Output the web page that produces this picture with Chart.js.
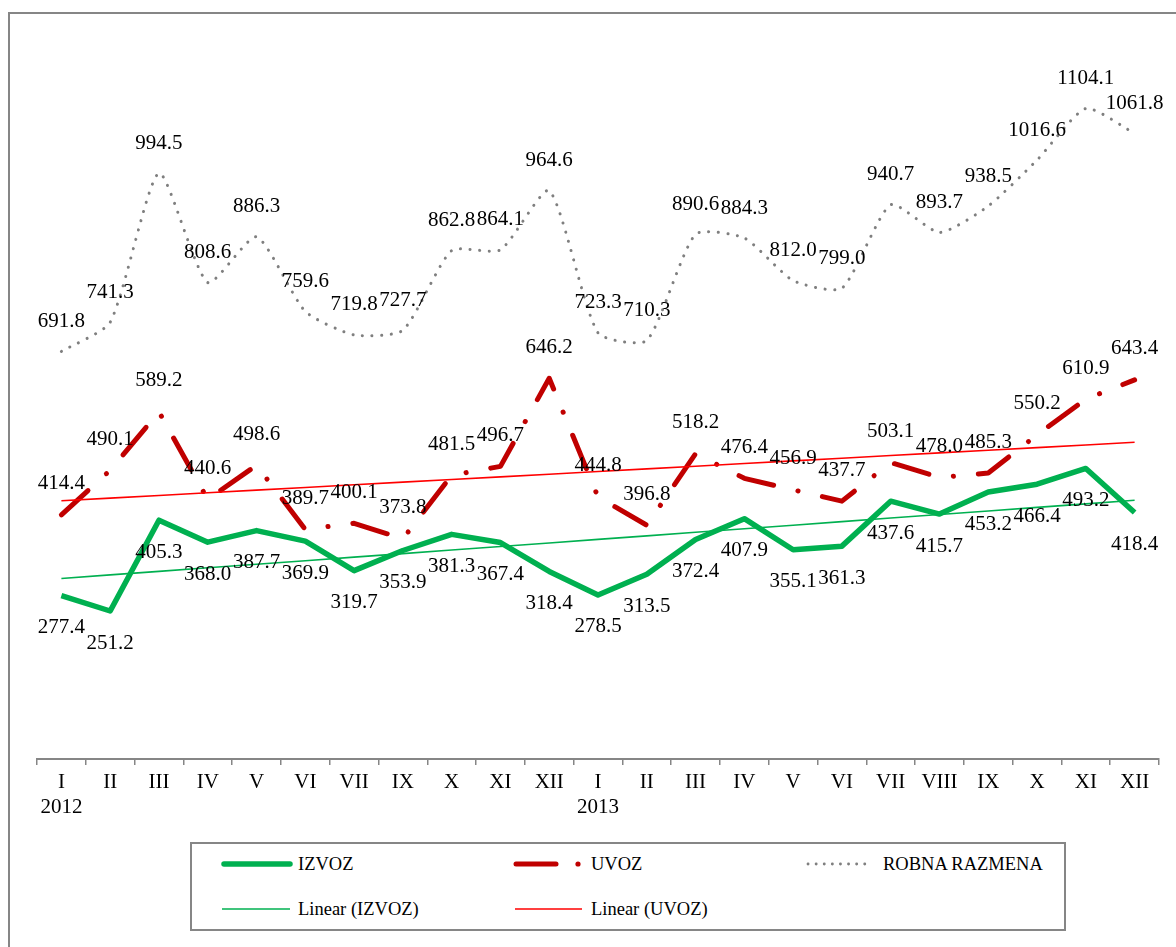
<!DOCTYPE html>
<html>
<head>
<meta charset="utf-8">
<script src="https://cdn.jsdelivr.net/npm/chart.js@4.4.1/dist/chart.umd.min.js"></script>
<style>
  body { margin: 0; background: #fff; }
  #wrap { position: relative; width: 1176px; height: 947px; overflow: hidden; }
  #frame { position: absolute; left: 8px; top: 12px; width: 1300px; height: 1100px; border: 2px solid #868686; box-sizing: border-box; }
  #chart { position: absolute; left: 0; top: 0; }
  #legendBox { position: absolute; left: 190px; top: 842px; width: 876px; height: 89px; border: 2px solid #868686; box-sizing: border-box; background: #fff; }
  .lg { position: absolute; font: 18.5px "Liberation Serif", "Times New Roman", serif; color: #000; line-height: 20px; white-space: nowrap; }
  #lgSvg { position: absolute; left: 0; top: 0; }
</style>
</head>
<body>
<div id="wrap">
  <div id="frame"></div>
  <canvas id="chart" width="1176" height="947"></canvas>
  <div id="legendBox"></div>
  <svg id="lgSvg" width="1176" height="947">
    <line x1="224" y1="864" x2="290" y2="864" stroke="#00b050" stroke-width="5.5" stroke-linecap="round"/>
    <line x1="516" y1="864" x2="556" y2="864" stroke="#c00000" stroke-width="5" stroke-linecap="round"/>
    <circle cx="578" cy="864" r="2.6" fill="#c00000"/>
    <line x1="808" y1="864" x2="872" y2="864" stroke="#7f7f7f" stroke-width="2.8" stroke-linecap="round" stroke-dasharray="0.1 8"/>
    <line x1="222" y1="909" x2="290" y2="909" stroke="#00b050" stroke-width="1.6"/>
    <line x1="515" y1="909" x2="582" y2="909" stroke="#ff0000" stroke-width="1.6"/>
  </svg>
  <div class="lg" style="left:298px;top:854px">IZVOZ</div>
  <div class="lg" style="left:591px;top:854px">UVOZ</div>
  <div class="lg" style="left:883px;top:854px">ROBNA RAZMENA</div>
  <div class="lg" style="left:298px;top:899px">Linear (IZVOZ)</div>
  <div class="lg" style="left:591px;top:899px">Linear (UVOZ)</div>
</div>
<script>
const months = ['I', 'II', 'III', 'IV', 'V', 'VI', 'VII', 'IX', 'X', 'XI', 'XII',
    'I', 'II', 'III', 'IV', 'V', 'VI', 'VII', 'VIII', 'IX', 'X', 'XI', 'XII'];
const years = ['2012', '', '', '', '', '', '', '', '', '', '',
    '2013', '', '', '', '', '', '', '', '', '', '', ''];

const izvoz = [277.4, 251.2, 405.3, 368.0, 387.7, 369.9, 319.7, 353.9, 381.3, 367.4, 318.4,
    278.5, 313.5, 372.4, 407.9, 355.1, 361.3, 437.6, 415.7, 453.2, 466.4, 493.2, 418.4];
const uvoz = [414.4, 490.1, 589.2, 440.6, 498.6, 389.7, 400.1, 373.8, 481.5, 496.7, 646.2,
    444.8, 396.8, 518.2, 476.4, 456.9, 437.7, 503.1, 478.0, 485.3, 550.2, 610.9, 643.4];
const robna = [691.8, 741.3, 994.5, 808.6, 886.3, 759.6, 719.8, 727.7, 862.8, 864.1, 964.6,
    723.3, 710.3, 890.6, 884.3, 812.0, 799.0, 940.7, 893.7, 938.5, 1016.6, 1104.1, 1061.8];

// least squares trend, like the Excel "Linear" trendline
function linearTrend(v) {
    const n = v.length;
    let sx = 0, sy = 0, sxy = 0, sxx = 0;
    v.forEach((y, i) => { sx += i; sy += y; sxy += i * y; sxx += i * i; });
    const b = (n * sxy - sx * sy) / (n * sxx - sx * sx);
    const a = (sy - b * sx) / n;
    return v.map((_, i) => a + b * i);
}

const labels = months.map((m, i) => years[i] ? [m, years[i]] : m);

const valueLabels = {
    id: 'valueLabels',
    afterDatasetsDraw(chart) {
        const ctx = chart.ctx;
        ctx.save();
        ctx.font = '21px "Liberation Serif"';
        ctx.fillStyle = '#000';
        ctx.textAlign = 'center';
        ctx.textBaseline = 'middle';
        chart.data.datasets.forEach((ds, i) => {
            if (ds.labelShift === undefined) return;
            chart.getDatasetMeta(i).data.forEach((pt, j) => {
                ctx.fillText(ds.data[j].toFixed(1), pt.x, pt.y + ds.labelShift);
            });
        });
        ctx.restore();
    }
};

new Chart(document.getElementById('chart'), {
    type: 'line',
    data: {
        labels: labels,
        datasets: [{
            label: 'Linear (IZVOZ)',
            data: linearTrend(izvoz),
            borderColor: '#00b050',
            borderWidth: 1.6,
            order: 0
        }, {
            label: 'Linear (UVOZ)',
            data: linearTrend(uvoz),
            borderColor: '#ff0000',
            borderWidth: 1.6,
            order: 0
        }, {
            label: 'IZVOZ',
            data: izvoz,
            borderColor: '#00b050',
            borderWidth: 5.5,
            borderJoinStyle: 'round',
            labelShift: 32,
            order: 1
        }, {
            label: 'UVOZ',
            data: uvoz,
            borderColor: '#c00000',
            borderWidth: 5,
            borderCapStyle: 'round',
            borderJoinStyle: 'round',
            borderDash: [36, 25, 0.1, 25],
            labelShift: -31,
            order: 2
        }, {
            label: 'ROBNA RAZMENA',
            data: robna,
            borderColor: '#7f7f7f',
            borderWidth: 3,
            borderCapStyle: 'round',
            borderDash: [0.1, 9.5],
            tension: 0.2,
            labelShift: -30,
            order: 3
        }]
    },
    options: {
        responsive: false,
        animation: false,
        layout: { padding: { left: 37, right: 17, top: 52, bottom: 128 } },
        elements: { point: { radius: 0, hoverRadius: 0 } },
        plugins: {
            legend: { display: false },
            tooltip: { enabled: false }
        },
        scales: {
            x: {
                offset: true,
                grid: {
                    offset: true,
                    drawOnChartArea: false,
                    tickLength: 6,
                    color: '#868686',
                    lineWidth: 1.5
                },
                border: { color: '#868686', width: 2 },
                ticks: {
                    autoSkip: false,
                    maxRotation: 0,
                    padding: 5,
                    color: '#000',
                    font: { family: 'Liberation Serif', size: 21, lineHeight: 1.2 }
                },
                afterFit(scale) { scale.height = 60; }
            },
            y: {
                display: false,
                min: 0,
                max: 1200
            }
        }
    },
    plugins: [valueLabels]
});
</script>
</body>
</html>
